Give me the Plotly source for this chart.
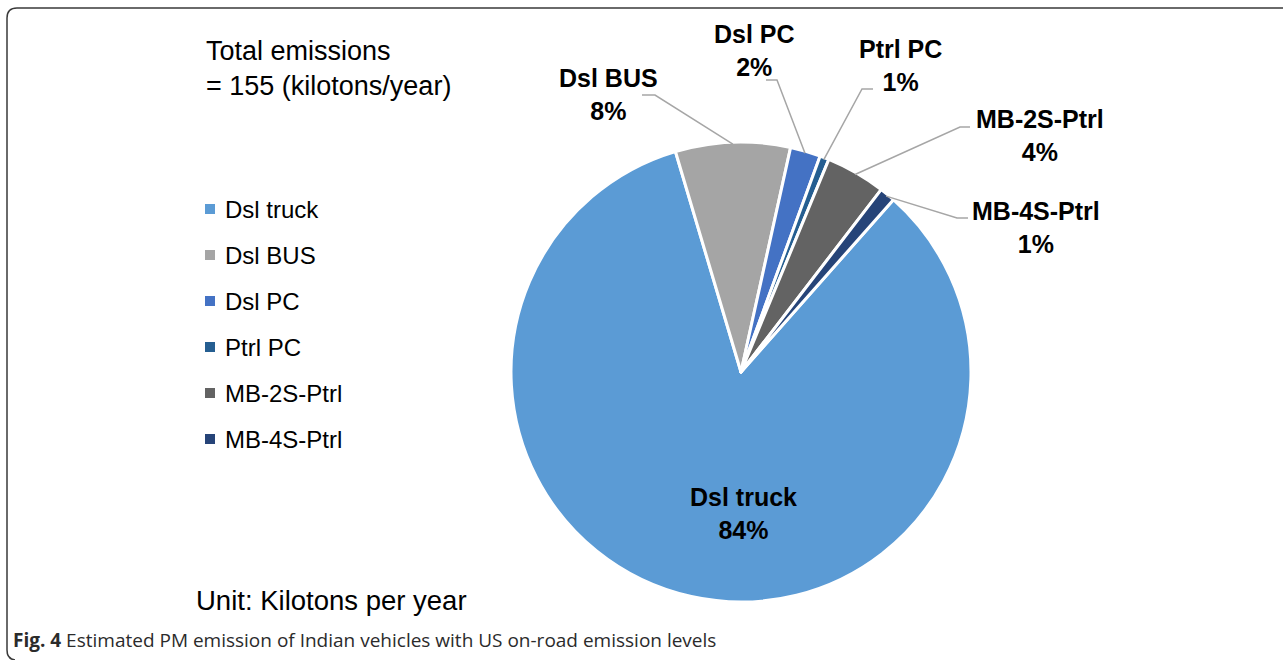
import math
import plotly.graph_objects as go

# PM emissions by vehicle class (kilotons per year)
categories = ["Dsl truck", "Dsl BUS", "Dsl PC", "Ptrl PC", "MB-2S-Ptrl", "MB-4S-Ptrl"]
emissions = [130.0, 12.5, 3.3, 1.0, 6.5, 1.7]
colors = ["#5B9BD5", "#A5A5A5", "#4472C4", "#255E91", "#636363", "#264478"]
total_emissions = 155

W, H = 1284, 660
CX, CY, R = 741, 372, 230      # pie centre and radius in pixels
ROTATION = 41.5                # start angle of the first slice (clockwise from 12 o'clock)


def px(x):
    return x / W


def py(y):
    return 1 - y / H


FONT = "Arial, 'Liberation Sans', sans-serif"

fig = go.Figure()
fig.add_trace(go.Pie(
    labels=categories,
    values=emissions,
    sort=False,
    direction="clockwise",
    rotation=ROTATION,
    marker=dict(colors=colors, line=dict(color="white", width=3)),
    textinfo="none",
    hoverinfo="label+value+percent",
    showlegend=False,
    domain=dict(x=[px(CX - R), px(CX + R)], y=[py(CY + R), py(CY - R)]),
))

total = sum(emissions)
mid_angles = []
acc = ROTATION
for v in emissions:
    span = v / total * 360
    mid_angles.append(acc + span / 2)
    acc += span


def edge_point(angle_deg, r=R):
    a = math.radians(angle_deg)
    return CX + r * math.sin(a), CY - r * math.cos(a)


# label centres and leader-line elbows (pixels); None = label inside the slice
label_pos = {
    "Dsl truck": ((743, 513), None),
    "Dsl BUS": ((608, 95), [(642, 95), (655, 95)]),
    "Dsl PC": ((754, 50), [(766, 80), (777, 80)]),
    "Ptrl PC": ((900, 66), [(873, 89), (862, 89)]),
    "MB-2S-Ptrl": ((1040, 135), [(970, 127), (960, 127)]),
    "MB-4S-Ptrl": ((1036, 227), [(968, 218), (957, 218)]),
}

annotations = []
shapes = []

for name, v, ang in zip(categories, emissions, mid_angles):
    (lx, ly), elbow = label_pos[name]
    pct = round(v / total * 100)
    annotations.append(dict(
        xref="paper", yref="paper", x=px(lx), y=py(ly),
        xanchor="center", yanchor="middle", showarrow=False,
        text=f"<b>{name}<br>{pct}%</b>",
        font=dict(family=FONT, size=25, color="black"),
    ))
    if elbow:
        ex, ey = edge_point(ang, R - 2)
        pts = elbow + [(ex, ey)]
        path = "M " + " L ".join(f"{px(x):.5f},{py(y):.5f}" for x, y in pts)
        shapes.append(dict(type="path", xref="paper", yref="paper", path=path,
                           line=dict(color="#A6A6A6", width=1.5)))

# legend drawn as coloured squares with labels
for i, (name, c) in enumerate(zip(categories, colors)):
    yc = 209 + i * 46
    shapes.append(dict(type="rect", xref="paper", yref="paper",
                       x0=px(205), x1=px(215), y0=py(yc + 5), y1=py(yc - 5),
                       fillcolor=c, line=dict(width=0)))
    annotations.append(dict(
        xref="paper", yref="paper", x=px(223), y=py(yc),
        xanchor="left", yanchor="middle", showarrow=False,
        text=name, font=dict(family=FONT, size=24, color="black"),
    ))

annotations.append(dict(
    xref="paper", yref="paper", x=px(204), y=py(68),
    xanchor="left", yanchor="middle", showarrow=False, align="left",
    text=f"Total emissions<br>= {total_emissions} (kilotons/year)",
    font=dict(family=FONT, size=27, color="black"),
))
annotations.append(dict(
    xref="paper", yref="paper", x=px(194), y=py(600),
    xanchor="left", yanchor="middle", showarrow=False,
    text="Unit: Kilotons per year",
    font=dict(family=FONT, size=27.5, color="black"),
))
annotations.append(dict(
    xref="paper", yref="paper", x=px(11), y=py(640),
    xanchor="left", yanchor="middle", showarrow=False,
    text="<b>Fig. 4</b> Estimated PM emission of Indian vehicles with US on-road emission levels",
    font=dict(family="'Open Sans', sans-serif", size=19, color="#2b2b2b"),
))

# rounded frame around the figure panel
frame = (f"M {px(1283)},{py(8)} L {px(17)},{py(8)} Q {px(7)},{py(8)} {px(7)},{py(18)} "
         f"L {px(7)},{py(650)} Q {px(7)},{py(659)} {px(15)},{py(660)}")
shapes.append(dict(type="path", xref="paper", yref="paper", path=frame,
                   line=dict(color="#3a3a3a", width=1.5)))

fig.update_layout(
    width=W, height=H,
    margin=dict(l=0, r=0, t=0, b=0),
    paper_bgcolor="white", plot_bgcolor="white",
    annotations=annotations,
    shapes=shapes,
)

fig.write_html("out.html")
